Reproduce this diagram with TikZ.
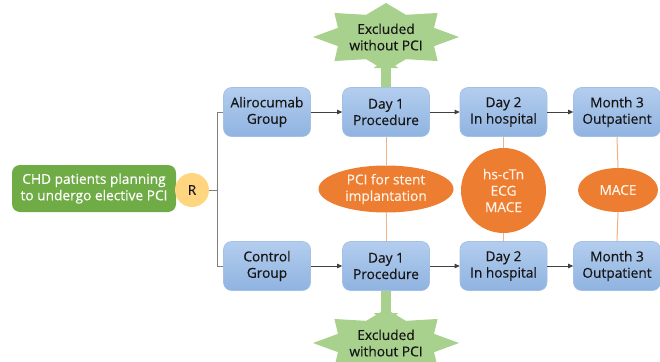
\documentclass[tikz,border=0pt]{standalone}
\usepackage{fontspec}
\setmainfont{Open Sans}[FakeBold=0.35]
\usetikzlibrary{arrows.meta,shapes.geometric,calc}
\definecolor{boxtop}{HTML}{B3CDEE}
\definecolor{boxbot}{HTML}{8FB3E0}
\definecolor{boxline}{HTML}{A4C0E6}
\definecolor{grn}{HTML}{6FAC46}
\definecolor{rcol}{HTML}{FFD580}
\definecolor{org}{HTML}{ED7D31}
\definecolor{peach}{HTML}{F4B183}
\definecolor{lgrn}{HTML}{A9D18E}
\definecolor{gline}{HTML}{7F7F7F}
\definecolor{dline}{HTML}{404040}
\definecolor{txt}{HTML}{161616}
\definecolor{otxt}{HTML}{FFF3E8}
\begin{document}
\begin{tikzpicture}[x=1pt,y=-1pt,
  every node/.style={font=\fontsize{13.7}{16.4}\selectfont, align=center, inner sep=0pt},
  stage/.style={rounded corners=8pt, top color=boxtop, bottom color=boxbot, draw=boxline, line width=0.6pt, minimum width=87pt, minimum height=49pt, text=txt},
  flow/.style={draw=dline, line width=0.7pt, -{Triangle[length=5pt,width=4.5pt]}},
  split/.style={draw=gline, line width=0.7pt},
  link/.style={draw=peach, line width=1pt},
  oval/.style={ellipse, fill=org, text=otxt, draw=none},
  fat/.style={draw=lgrn, line width=10pt, -{Triangle[length=10pt,width=24pt]}},
  starfill/.style={fill=lgrn},
  exclbl/.style={text=txt}
]
\useasboundingbox (0,0) rectangle (660,361);

% stars (behind)
\coordinate (xtc) at (386,37);
\fill[starfill] ($(xtc)+(90:73 and 34)$) \foreach \k in {0,...,7}{ -- ($(xtc)+({112.5+45*\k}:52 and 24)$) -- ($(xtc)+({135+45*\k}:73 and 34)$) } -- cycle;
\node[exclbl] (xt) at (xtc) {Excluded\\without PCI};
\coordinate (xbc) at (386,343);
\fill[starfill] ($(xbc)+(90:73 and 34)$) \foreach \k in {0,...,7}{ -- ($(xbc)+({112.5+45*\k}:52 and 24)$) -- ($(xbc)+({135+45*\k}:73 and 34)$) } -- cycle;
\node[exclbl] (xb) at (xbc) {Excluded\\without PCI};

% start
\node[fill=grn, rounded corners=8pt, minimum width=164pt, minimum height=47pt, text=white] (chd) at (94,188.5) {CHD patients planning\\to undergo elective PCI};
\node[circle, fill=rcol, minimum size=34pt, text=txt] (r) at (192,190) {R};

% rows
\node[stage] (ali) at (267,112) {Alirocumab\\Group};
\node[stage] (d1a) at (386,112) {Day 1\\Procedure};
\node[stage] (d2a) at (503.5,112) {Day 2\\In hospital};
\node[stage] (m3a) at (617,112) {Month 3\\Outpatient};
\node[stage] (ctl) at (267,266) {Control\\Group};
\node[stage] (d1b) at (386,266) {Day 1\\Procedure};
\node[stage] (d2b) at (503.5,266) {Day 2\\In hospital};
\node[stage] (m3b) at (617,266) {Month 3\\Outpatient};

% middle items
\node[oval, minimum width=135pt, minimum height=47pt] (pci) at (386,189) {PCI for stent\\implantation};
\node[circle, fill=org, text=otxt, minimum size=85pt] (tests) at (503.5,190.5) {hs-cTn\\ECG\\MACE};
\node[oval, minimum width=80pt, minimum height=44pt] (mace) at (618,190) {MACE};

% randomisation split
\coordinate (sp) at (217,190);
\draw[split] (r.east) -- (sp) |- (ali.west);
\draw[split] (sp) |- (ctl.west);

% flow arrows
\draw[flow] (ali) -- (d1a);
\draw[flow] (d1a) -- (d2a);
\draw[flow] (d2a) -- (m3a);
\draw[flow] (ctl) -- (d1b);
\draw[flow] (d1b) -- (d2b);
\draw[flow] (d2b) -- (m3b);

% peach links
\draw[link] (d1a.south) -- (pci.north);
\draw[link] (pci.south) -- (d1b.north);
\draw[link] (d2a.south) -- (tests.north);
\draw[link] (tests.south) -- (d2b.north);
\draw[link] (m3a.south) -- (mace.north);
\draw[link] (mace.south) -- (m3b.north);

% exclusion arrows
\coordinate (xttip) at (386,58);
\coordinate (xbtip) at (386,323);
\draw[fat] (d1a.north) -- (xttip);
\draw[fat] (d1b.south) -- (xbtip);
\end{tikzpicture}
\end{document}
